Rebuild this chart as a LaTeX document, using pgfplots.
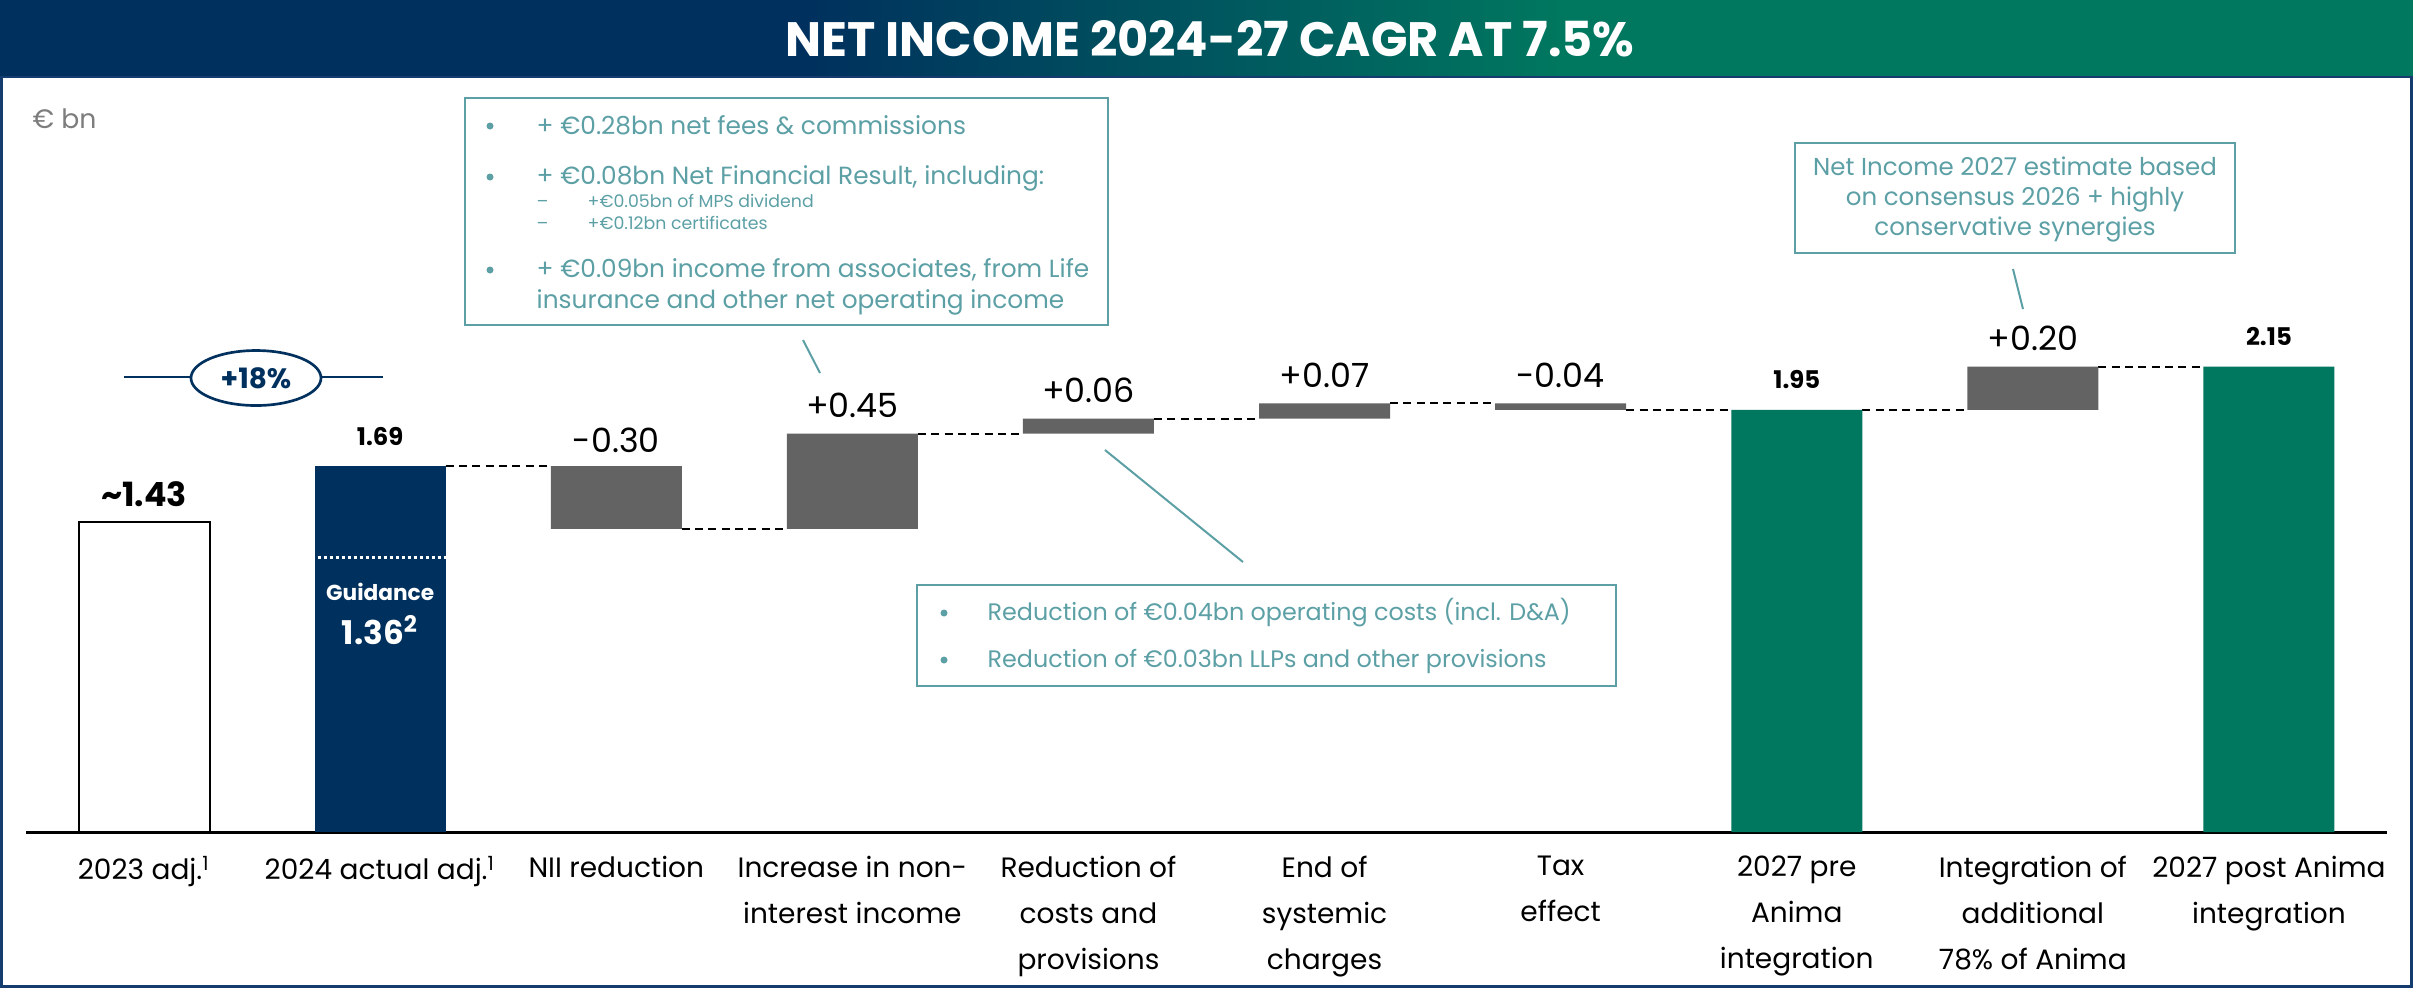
\documentclass[border=0pt]{standalone}
\usepackage{fontspec}
\setmainfont{Poppins}
\usepackage{pgfplots}
\pgfplotsset{compat=1.18}
\definecolor{navy}{RGB}{0,48,94}
\definecolor{bgreen}{RGB}{0,119,95}
\definecolor{bargray}{RGB}{99,99,99}
\definecolor{tealc}{RGB}{92,160,166}
\definecolor{frame}{RGB}{20,60,110}
\definecolor{unitgray}{RGB}{125,125,125}
\tikzset{conn/.style={black, line width=0.6pt, dash pattern=on 2.4pt off 1.6pt}}
\begin{document}
\begin{tikzpicture}
\begin{scope}[x=0.3pt,y=-0.3pt]
\path[use as bounding box] (0,0) rectangle (2413,988);
\fill[white] (0,0) rectangle (2413,988);
\fill[navy] (0,0) rectangle (802,77);
\shade[left color=navy, right color=bgreen] (800,0) rectangle (1562,77);
\fill[bgreen] (1560,0) rectangle (2413,77);
\draw[frame, line width=0.7pt] (1.5,77) rectangle (2411.5,986.5);
\node[white, font=\bfseries, inner sep=0] at (1210,39) {\resizebox{254.7pt}{10.8pt}{NET INCOME 2024-27 CAGR AT 7.5\%}};
\node[unitgray, font=\fontsize{8}{9}\selectfont, anchor=base west, inner sep=0] at (32,128) {€ bn};
\coordinate (O) at (26,832);
% +18% marker
\draw[navy, line width=0.8pt] (124,377) -- (383,377);
\draw[navy, line width=0.8pt, fill=white] (256,378) ellipse [x radius=65, y radius=27.5];
\node[navy, font=\fontsize{8.4}{10}\selectfont\bfseries, inner sep=0] at (256,378) {+18\%};
\end{scope}

\begin{axis}[at={(O)}, anchor=south west, x=70.83pt, y=64.95pt,
  xmin=-0.5, xmax=9.5, ymin=0, ymax=2.5,
  axis x line*=bottom, axis y line=none,
  x axis line style={line width=0.9pt, black, -},
  ybar stacked, bar width=39.3pt,
  xtick={0,...,9},
  xticklabels={2023 adj.\textsuperscript{1}, 2024 actual adj.\textsuperscript{1}, NII reduction, Increase in non-\\interest income, Reduction of\\costs and\\provisions, End of\\systemic\\charges, Tax\\effect, 2027 pre\\Anima\\integration, Integration of\\additional\\78\% of Anima, 2027 post Anima\\integration},
  major tick length=0pt,
  xticklabel style={align=center, anchor=north, inner sep=0pt, yshift=-7pt, font=\fontsize{8.4}{13.8}\selectfont},
  clip=false]
\addplot[fill=white, draw=black, line width=0.6pt] coordinates {(0,1.43) (1,0) (2,0) (3,0) (4,0) (5,0) (6,0) (7,0) (8,0) (9,0)};
\addplot[draw=none, fill=none] coordinates {(0,0) (1,0) (2,1.40) (3,1.40) (4,1.84) (5,1.91) (6,1.95) (7,0) (8,1.95) (9,0)};
\addplot[fill=bargray, draw=none] coordinates {(0,0) (1,0) (2,0.29) (3,0.44) (4,0.07) (5,0.07) (6,0.03) (7,0) (8,0.20) (9,0)};
\addplot[fill=navy, draw=none] coordinates {(0,0) (1,1.69) (2,0) (3,0) (4,0) (5,0) (6,0) (7,0) (8,0) (9,0)};
\addplot[fill=bgreen, draw=none] coordinates {(0,0) (1,0) (2,0) (3,0) (4,0) (5,0) (6,0) (7,1.95) (8,0) (9,2.15)};

\draw[conn] (axis cs:1.2775,1.69) -- (axis cs:1.7225,1.69);
\draw[conn] (axis cs:2.2775,1.40) -- (axis cs:2.7225,1.40);
\draw[conn] (axis cs:3.2775,1.84) -- (axis cs:3.7225,1.84);
\draw[conn] (axis cs:4.2775,1.91) -- (axis cs:4.7225,1.91);
\draw[conn] (axis cs:5.2775,1.98) -- (axis cs:5.7225,1.98);
\draw[conn] (axis cs:6.2775,1.95) -- (axis cs:6.7225,1.95);
\draw[conn] (axis cs:7.2775,1.95) -- (axis cs:7.7225,1.95);
\draw[conn] (axis cs:8.2775,2.15) -- (axis cs:8.7225,2.15);
\coordinate (gl) at (axis cs:0.735,1.27);
\coordinate (gr) at (axis cs:1.2775,1.27);
\coordinate (gt) at (axis cs:1,1.108);
\coordinate (gn) at (axis cs:1,0.933);
\node[font=\fontsize{10}{12}\selectfont\bfseries, inner sep=0] at (axis cs:0,1.561) {\textasciitilde 1.43};
\node[font=\fontsize{7.3}{9}\selectfont\bfseries, inner sep=0] at (axis cs:1,1.829) {1.69};
\node[font=\fontsize{10}{12}\selectfont, inner sep=0] at (axis cs:2,1.811) {-0.30};
\node[font=\fontsize{10}{12}\selectfont, inner sep=0] at (axis cs:3,1.972) {+0.45};
\node[font=\fontsize{10}{12}\selectfont, inner sep=0] at (axis cs:4,2.042) {+0.06};
\node[font=\fontsize{10}{12}\selectfont, inner sep=0] at (axis cs:5,2.111) {+0.07};
\node[font=\fontsize{10}{12}\selectfont, inner sep=0] at (axis cs:6,2.111) {-0.04};
\node[font=\fontsize{7.3}{9}\selectfont\bfseries, inner sep=0] at (axis cs:7,2.088) {1.95};
\node[font=\fontsize{10}{12}\selectfont, inner sep=0] at (axis cs:8,2.282) {+0.20};
\node[font=\fontsize{7.3}{9}\selectfont\bfseries, inner sep=0] at (axis cs:9,2.291) {2.15};
\end{axis}

% guidance inside the 2024 bar (drawn on top of the bars)
\draw[white, line width=0.9pt, dash pattern=on 0.9pt off 0.9pt] (gl) -- (gr);
\node[white, font=\fontsize{6.5}{8}\selectfont\bfseries, inner sep=0] at (gt) {Guidance};
\node[white, font=\fontsize{9.8}{11}\selectfont\bfseries, inner sep=0] at (gn) {1.36\textsuperscript{2}};

\begin{scope}[x=0.3pt,y=-0.3pt, tealc]
\draw[line width=0.6pt, fill=white] (465,98) rectangle (1108,325);
\fill (490,126) circle (3.5);
\fill (490,177) circle (3.5);
\fill (490,270) circle (3.5);
\node[anchor=base west, inner sep=0, font=\fontsize{7.45}{9}\selectfont] at (536,134) {+ €0.28bn net fees \& commissions};
\node[anchor=base west, inner sep=0, font=\fontsize{7.45}{9}\selectfont] at (536,184) {+ €0.08bn Net Financial Result, including:};
\node[anchor=base west, inner sep=0, font=\fontsize{7.45}{9}\selectfont] at (536,277) {+ €0.09bn income from associates, from Life};
\node[anchor=base west, inner sep=0, font=\fontsize{7.45}{9}\selectfont] at (536,308) {insurance and other net operating income};
\node[anchor=base west, inner sep=0, font=\fontsize{5.2}{6}\selectfont] at (536,207) {–};
\node[anchor=base west, inner sep=0, font=\fontsize{5.2}{6}\selectfont] at (587,207) {+€0.05bn of MPS dividend};
\node[anchor=base west, inner sep=0, font=\fontsize{5.2}{6}\selectfont] at (536,229) {–};
\node[anchor=base west, inner sep=0, font=\fontsize{5.2}{6}\selectfont] at (587,229) {+€0.12bn certificates};
\draw[line width=0.6pt] (803,340) -- (820,373);
\draw[line width=0.6pt, fill=white] (917,585) rectangle (1616,686);
\fill (944,613) circle (3.5);
\fill (944,660) circle (3.5);
\node[anchor=base west, inner sep=0, font=\fontsize{7.15}{9}\selectfont] at (987,620) {Reduction of €0.04bn operating costs (incl. D\&A)};
\node[anchor=base west, inner sep=0, font=\fontsize{7.15}{9}\selectfont] at (987,667) {Reduction of €0.03bn LLPs and other provisions};
\draw[line width=0.6pt] (1105,450) -- (1243,562);
\draw[line width=0.6pt, fill=white] (1795,143) rectangle (2235,253);
\node[align=center, inner sep=0, font=\fontsize{7.35}{9}\selectfont] at (2015,199) {Net Income 2027 estimate based\\on consensus 2026 + highly\\conservative synergies};
\draw[line width=0.6pt] (2013,269) -- (2023,309);
\end{scope}
\end{tikzpicture}
\end{document}
